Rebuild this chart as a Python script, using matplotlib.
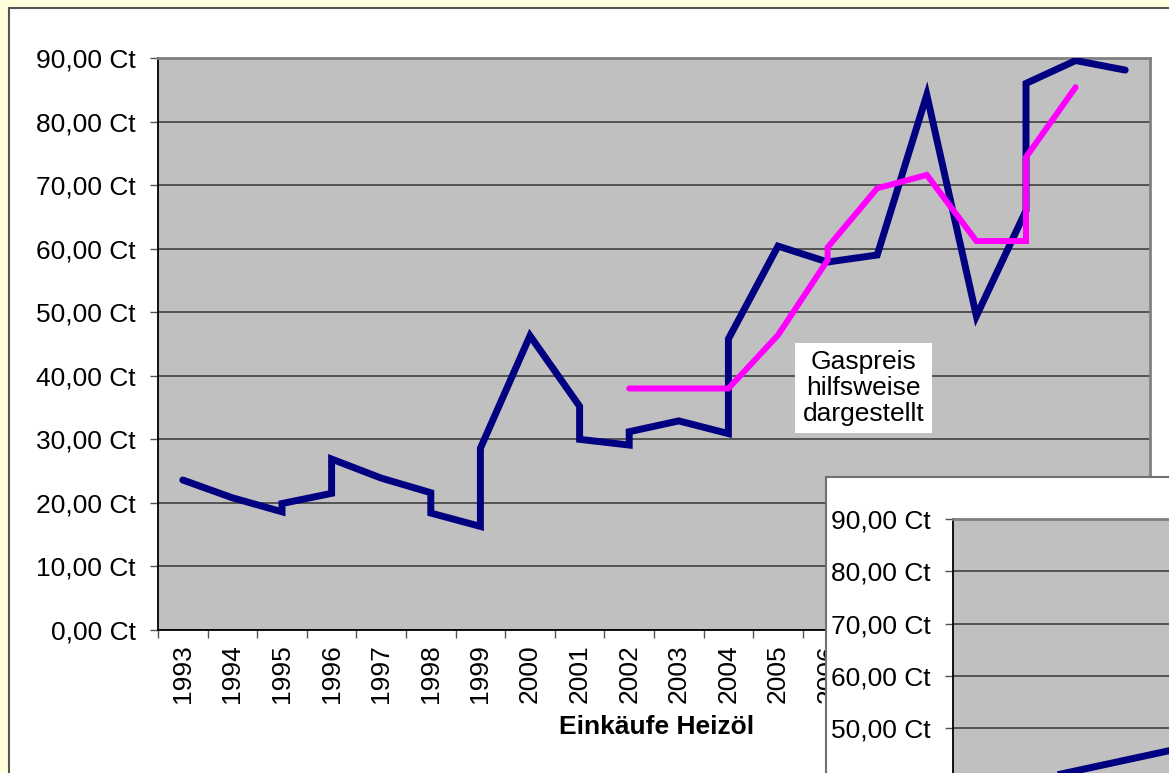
import matplotlib
matplotlib.use("Agg")
import matplotlib.pyplot as plt
from matplotlib.patches import Rectangle
from matplotlib.ticker import FuncFormatter, FixedLocator
import numpy as np

plt.rcParams['font.family'] = ['Liberation Sans', 'DejaVu Sans']

# ---- data ----
years = [str(y) for y in range(1993, 2013)]
oil_years = [1993, 1994, 1995, 1995, 1996, 1996, 1997, 1998, 1998, 1999, 1999, 2000,
             2001, 2001, 2002, 2002, 2003, 2004, 2004, 2005, 2006, 2007, 2008, 2009,
             2010, 2010, 2011, 2012]
oil_values = [23.6, 20.8, 18.6, 19.9, 21.5, 26.9, 23.9, 21.6, 18.4, 16.3, 28.6, 46.3,
              35.2, 30.0, 29.1, 31.2, 32.9, 30.9, 45.8, 60.4, 57.9, 59.0, 84.2, 49.4,
              66.0, 86.0, 89.6, 88.1]
gas_years = [2002, 2003, 2004, 2005, 2006, 2006, 2007, 2008, 2009, 2010, 2010, 2011]
gas_values = [38.0, 38.0, 38.0, 46.4, 58.2, 60.2, 69.5, 71.6, 61.2, 61.2, 74.4, 85.4]
y_ticks = [0, 10, 20, 30, 40, 50, 60, 70, 80, 90]
inset_x = [1, 5]
inset_values = [39.3, 46.0]

W, H = 1169, 773
FS = 19
fig = plt.figure(figsize=(W / 100, H / 100), dpi=100)
fig.patch.set_facecolor('#FFFFDC')

def fx(px):
    return px / W

def fy(py):
    return 1 - py / H

# chart area
fig.add_artist(Rectangle((fx(9), -0.2), 1.5, fy(8) + 0.2, transform=fig.transFigure,
                         facecolor='white', edgecolor='#555555', lw=1.5, zorder=-5))

fmt = FuncFormatter(lambda v, p: f"{v:.2f} Ct".replace('.', ','))

ax = fig.add_axes([fx(158), fy(630), fx(1150) - fx(158), fy(58) - fy(630)])
ax.set_zorder(0)
ax.set_facecolor('#C0C0C0')
ax.set_xlim(-0.5, len(years) - 0.5)
ax.set_ylim(0, 90)
ax.set_yticks(y_ticks)
ax.yaxis.set_major_formatter(fmt)
ax.grid(axis='y', color='#4a4a4a', lw=1.3)
ax.set_axisbelow(True)
ax.set_xticks(np.arange(len(years)))
ax.set_xticklabels(years, rotation=90)
ax.xaxis.set_minor_locator(FixedLocator(np.arange(len(years) + 1) - 0.5))
ax.tick_params(axis='x', which='major', length=0, pad=10, labelsize=FS)
ax.tick_params(axis='x', which='minor', length=6, width=1, direction='out', color='#555555')
ax.tick_params(axis='y', length=6, width=1, pad=10, labelsize=FS, color='#555555')
for s in ['left', 'bottom']:
    ax.spines[s].set_color('black')
    ax.spines[s].set_linewidth(1.3)
for s in ['top', 'right']:
    ax.spines[s].set_color('#808080')
    ax.spines[s].set_linewidth(2)

ox = [y - 1993 for y in oil_years]
gx = [y - 1993 for y in gas_years]
ax.plot(ox, oil_values, color='#000080', lw=5, solid_joinstyle='miter', solid_capstyle='round', zorder=3)
ax.plot(gx, gas_values, color='#FF00FF', lw=4.3, solid_joinstyle='miter', solid_capstyle='round', zorder=4)

ax.text(13.72, 38.1, "Gaspreis\nhilfsweise\ndargestellt", ha='center', va='center',
        fontsize=FS, linespacing=1.1, zorder=5,
        bbox=dict(boxstyle='square,pad=0.28', facecolor='white', edgecolor='none'))

fig.text(fx(657), fy(727), "Einkäufe Heizöl", ha='center', va='center',
         fontsize=FS, fontweight='bold')

# inset chart (overlapping, cut off)
fig.add_artist(Rectangle((fx(826), -0.5), 1.5, fy(477) + 0.5, transform=fig.transFigure,
                         facecolor='white', edgecolor='#707070', lw=1.5, zorder=1))

bottom_px = 519 + 9 * 52.3
ax2 = fig.add_axes([fx(953), fy(bottom_px), fx(1400) - fx(953), fy(519) - fy(bottom_px)])
ax2.set_zorder(2)
ax2.set_facecolor('#C0C0C0')
ax2.set_ylim(0, 90)
ax2.set_xlim(-0.5, 10.5)
ax2.set_yticks(y_ticks)
ax2.yaxis.set_major_formatter(fmt)
ax2.set_xticks([])
ax2.grid(axis='y', color='#4a4a4a', lw=1.3)
ax2.set_axisbelow(True)
ax2.tick_params(axis='y', length=6, width=1, pad=10, labelsize=FS, color='#555555')
ax2.spines['left'].set_color('black')
ax2.spines['left'].set_linewidth(1.3)
ax2.spines['top'].set_color('#808080')
ax2.spines['top'].set_linewidth(2)
ax2.plot(inset_x, inset_values, color='#000080', lw=5, zorder=3)

fig.savefig('out.png', dpi=100, facecolor=fig.get_facecolor())
